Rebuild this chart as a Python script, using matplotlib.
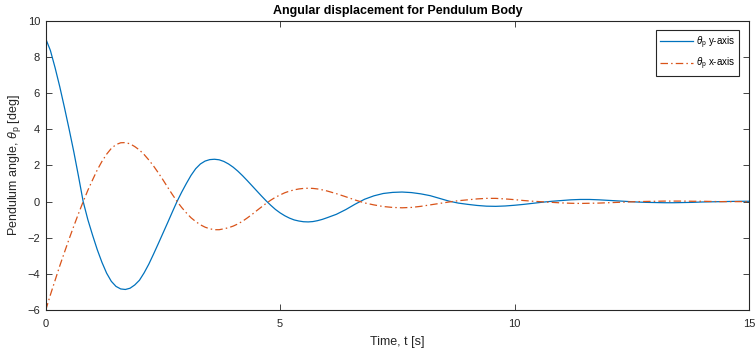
import matplotlib
matplotlib.use("Agg")
import matplotlib.pyplot as plt
import numpy as np

plt.rcParams['font.family'] = ['Liberation Sans', 'DejaVu Sans']
plt.rcParams['mathtext.fontset'] = 'custom'
plt.rcParams['mathtext.rm'] = 'Liberation Sans'
plt.rcParams['mathtext.it'] = 'Liberation Sans:italic'

# time samples: 0.1 s apart up to 6 s, then 0.2 s apart
time = np.concatenate([np.linspace(0, 6, 61), np.linspace(6.2, 15, 45)])

# pendulum angle about y-axis [deg]
theta_y = [
    9.00, 8.35, 7.40, 6.35, 5.20, 4.00, 2.75, 1.40, 0.00, -1.00,
    -1.85, -2.65, -3.35, -3.95, -4.40, -4.68, -4.82, -4.85, -4.78, -4.60,
    -4.34, -3.93, -3.45, -2.90, -2.33, -1.75, -1.17, -0.58, 0.00, 0.52,
    1.00, 1.45, 1.82, 2.08, 2.24, 2.32, 2.34, 2.31, 2.22, 2.08,
    1.90, 1.68, 1.43, 1.16, 0.88, 0.60, 0.32, 0.05, -0.20, -0.43,
    -0.62, -0.78, -0.91, -1.01, -1.07, -1.11, -1.12, -1.10, -1.05, -0.98,
    -0.89,
    -0.70, -0.44, -0.14, 0.13, 0.32, 0.45, 0.51, 0.53, 0.50,
    0.43, 0.33, 0.18, 0.03, -0.08, -0.15, -0.21, -0.25, -0.26, -0.24,
    -0.20, -0.15, -0.09, -0.03, 0.02, 0.06, 0.10, 0.12, 0.12, 0.10,
    0.07, 0.04, 0.01, -0.02, -0.04, -0.05, -0.06, -0.06, -0.05, -0.04,
    -0.02, -0.01, 0.00, 0.01, 0.02, 0.02,
]

# pendulum angle about x-axis [deg]
theta_x = [
    -6.00, -5.15, -4.35, -3.55, -2.80, -2.06, -1.35, -0.66, 0.00, 0.63,
    1.20, 1.75, 2.22, 2.62, 2.94, 3.15, 3.25, 3.26, 3.19, 3.04,
    2.85, 2.60, 2.30, 1.97, 1.60, 1.21, 0.80, 0.40, 0.02, -0.32,
    -0.62, -0.89, -1.10, -1.28, -1.41, -1.50, -1.55, -1.55, -1.50, -1.44,
    -1.35, -1.23, -1.08, -0.90, -0.71, -0.50, -0.30, -0.10, 0.08, 0.24,
    0.37, 0.49, 0.58, 0.65, 0.70, 0.73, 0.74, 0.73, 0.70, 0.65,
    0.59,
    0.44, 0.27, 0.09, -0.07, -0.18, -0.27, -0.32, -0.34, -0.32,
    -0.26, -0.18, -0.10, -0.02, 0.05, 0.10, 0.15, 0.18, 0.18, 0.15,
    0.11, 0.06, 0.02, -0.01, -0.04, -0.07, -0.09, -0.10, -0.09, -0.08,
    -0.06, -0.04, -0.02, 0.00, 0.01, 0.02, 0.03, 0.03, 0.03, 0.02,
    0.02, 0.01, 0.00, 0.00, 0.00, 0.00,
]

x_ticks = [0, 5, 10, 15]
y_ticks = [-6, -4, -2, 0, 2, 4, 6, 8, 10]

axis_grey = '#262626'

fig = plt.figure(figsize=(7.55, 3.5), dpi=100)
ax = fig.add_axes([0.0605, 0.1134, 0.9315, 0.828])

ax.plot(time, theta_y, color='#0072BD', lw=0.9, label=r'$\theta_{\rm p}$ y-axis')
ax.plot(time, theta_x, color='#D95319', lw=0.9, linestyle=(0, (6, 2.5, 1.2, 2.5)),
        label=r'$\theta_{\rm p}$ x-axis')

ax.set_xlim(0, 15)
ax.set_ylim(-6, 10)
ax.set_xticks(x_ticks)
ax.set_yticks(y_ticks)
ax.tick_params(direction='in', length=4.5, width=0.6, colors=axis_grey,
               labelsize=8, top=True, right=True, pad=4)
ax.tick_params(axis='x', pad=6)
for s in ax.spines.values():
    s.set_color(axis_grey)
    s.set_linewidth(0.8)

ax.set_title('Angular displacement for Pendulum Body', fontsize=9,
             fontweight='bold', color='black', pad=5)
ax.set_xlabel('Time, t [s]', fontsize=9, color=axis_grey, labelpad=5)
ax.set_ylabel(r'Pendulum angle, $\theta_{\rm p}$ [deg]', fontsize=9,
              color=axis_grey, labelpad=3)

leg = ax.legend(loc='upper right', fontsize=7, handlelength=3.4,
                fancybox=False, framealpha=1, edgecolor=axis_grey,
                borderaxespad=1.0, handletextpad=0.3, labelspacing=0.5)
leg.get_frame().set_linewidth(0.8)

fig.savefig('out.png', dpi=100)
